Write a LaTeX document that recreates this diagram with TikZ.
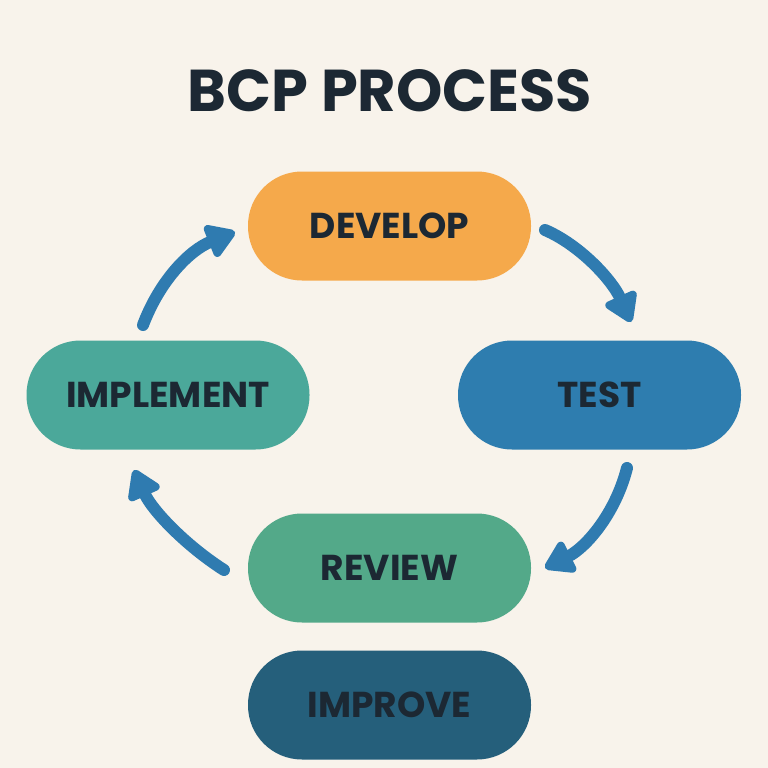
\documentclass[tikz,border=0pt]{standalone}
\usepackage{fontspec}
\setmainfont{Poppins}
\usetikzlibrary{arrows.meta}
\definecolor{bg}{HTML}{F8F3EB}
\definecolor{txt}{HTML}{1C2833}
\definecolor{cdev}{HTML}{F5A94B}
\definecolor{cimp}{HTML}{4BA89A}
\definecolor{ctest}{HTML}{2E7DAF}
\definecolor{crev}{HTML}{53A989}
\definecolor{cimpr}{HTML}{255F7B}
\definecolor{carrow}{HTML}{2F7BB0}
\tikzset{
  pill/.style={rounded corners=54pt, minimum width=283pt, minimum height=109pt,
    inner sep=0pt, text=txt, font=\fontsize{36}{40}\selectfont\bfseries},
  cyc/.style={draw=carrow, line width=12pt, line cap=round,
    -{Triangle[width=38pt,length=32pt,round]}},
}
\begin{document}
\begin{tikzpicture}[x=1pt,y=-1pt]
\fill[bg] (0,0) rectangle (768,768);
\useasboundingbox (0,0) rectangle (768,768);
\node[text=txt, font=\fontsize{59}{64}\selectfont\bfseries] (title) at (390,91) {BCP PROCESS};
\node[pill, fill=cdev] (dev) at (389.5,226) {DEVELOP};
\node[pill, fill=cimp] (impl) at (168,395) {IMPLEMENT};
\node[pill, fill=ctest] (test) at (599.5,395) {TEST};
\node[pill, fill=crev] (rev) at (389.5,568) {REVIEW};
\node[pill, fill=cimpr] (impr) at (389.5,705) {IMPROVE};
\coordinate (a1s) at (143,325);
\coordinate (a1e) at (235,232);
\coordinate (a2s) at (545,230);
\coordinate (a2e) at (631,322);
\coordinate (a3s) at (627,468);
\coordinate (a3e) at (545,568);
\coordinate (a4s) at (224,570);
\coordinate (a4e) at (134,470);
\draw[cyc] (a1s) .. controls (160,280) and (190,250) .. (a1e);
\draw[cyc] (a2s) .. controls (580,245) and (612,280) .. (a2e);
\draw[cyc] (a3s) .. controls (615,515) and (585,548) .. (a3e);
\draw[cyc] (a4s) .. controls (185,545) and (152,510) .. (a4e);
\end{tikzpicture}
\end{document}
